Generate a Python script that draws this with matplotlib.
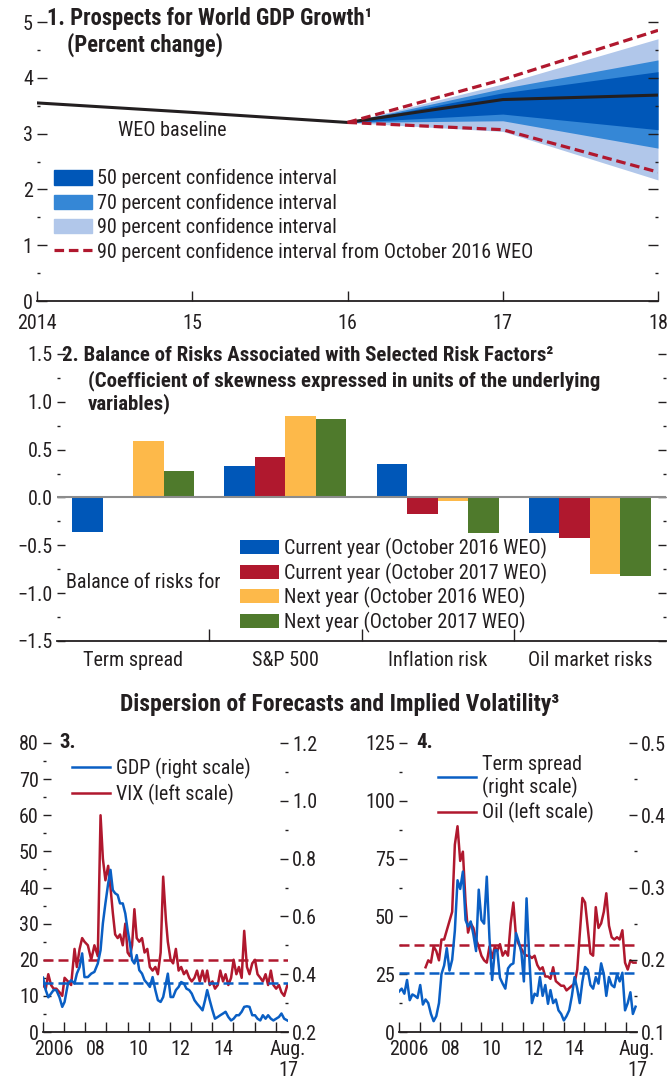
import matplotlib

matplotlib.use("Agg")
import matplotlib.pyplot as plt
from matplotlib import font_manager
from matplotlib.lines import Line2D
from matplotlib.patches import Patch
from matplotlib.ticker import FuncFormatter, MultipleLocator

# ------------------------------------------------------------------ #
# Data
# ------------------------------------------------------------------ #

# Panel 1: world GDP growth fan chart
p1_years = [2014, 2015, 2016, 2017, 2018]
p1_year_labels = ["2014", "15", "16", "17", "18"]
weo_baseline = [3.55, 3.38, 3.20, 3.61, 3.69]
fan_years = [2016, 2017, 2018]
ci50_lo = [3.20, 3.35, 3.07]
ci50_hi = [3.20, 3.73, 4.11]
ci70_lo = [3.20, 3.23, 2.74]
ci70_hi = [3.20, 3.81, 4.32]
ci90_lo = [3.20, 3.04, 2.17]
ci90_hi = [3.20, 3.89, 4.70]
oct16_ci90_lo = [3.20, 3.07, 2.31]
oct16_ci90_hi = [3.20, 3.97, 4.85]

# Panel 2: balance of risks
risk_factors = ["Term spread", "S&P 500", "Inflation risk", "Oil market risks"]
cur_2016 = [-0.36, 0.33, 0.35, -0.37]
cur_2017 = [0.01, 0.42, -0.17, -0.42]
next_2016 = [0.59, 0.85, -0.04, -0.80]
next_2017 = [0.28, 0.82, -0.37, -0.82]

# Panel 3: GDP forecast dispersion (right) and VIX (left)
p3_dates = [
    2006.00, 2006.13, 2006.25, 2006.38, 2006.50, 2006.63, 2006.78, 2006.91,
    2007.02, 2007.18, 2007.33, 2007.49, 2007.60, 2007.73, 2007.85, 2007.96,
    2008.12, 2008.28, 2008.43, 2008.59, 2008.72, 2008.83, 2008.95, 2009.08,
    2009.19, 2009.30, 2009.41, 2009.53, 2009.64, 2009.77, 2009.89, 2010.00,
    2010.11, 2010.21, 2010.32, 2010.43, 2010.55, 2010.68, 2010.80, 2010.93,
    2011.05, 2011.18, 2011.31, 2011.43, 2011.56, 2011.68, 2011.81, 2011.90,
    2012.03, 2012.15, 2012.28, 2012.41, 2012.53, 2012.66, 2012.78, 2012.91,
    2013.03, 2013.16, 2013.28, 2013.41, 2013.54, 2013.66, 2013.76, 2013.88,
    2014.01, 2014.13, 2014.26, 2014.38, 2014.51, 2014.63, 2014.76, 2014.89,
    2015.01, 2015.14, 2015.26, 2015.39, 2015.51, 2015.64, 2015.76, 2015.89,
    2016.02, 2016.14, 2016.27, 2016.39, 2016.52, 2016.64, 2016.77, 2016.89,
    2017.02, 2017.15, 2017.27, 2017.40, 2017.55,
]
p3_gdp = [
    0.388, 0.345, 0.320, 0.333, 0.345, 0.345, 0.320, 0.287,
    0.304, 0.368, 0.379, 0.368, 0.402, 0.425, 0.472, 0.390,
    0.390, 0.402, 0.408, 0.437, 0.483, 0.576, 0.645, 0.714,
    0.761, 0.691, 0.680, 0.674, 0.645, 0.645, 0.610, 0.553,
    0.506, 0.449, 0.437, 0.466, 0.414, 0.402, 0.379, 0.368,
    0.356, 0.390, 0.345, 0.310, 0.304, 0.321, 0.368, 0.402,
    0.321, 0.321, 0.345, 0.356, 0.373, 0.368, 0.350, 0.345,
    0.333, 0.310, 0.298, 0.287, 0.275, 0.310, 0.345, 0.310,
    0.275, 0.246, 0.252, 0.258, 0.264, 0.270, 0.252, 0.240,
    0.246, 0.258, 0.258, 0.270, 0.287, 0.289, 0.287, 0.258,
    0.258, 0.246, 0.240, 0.258, 0.246, 0.258, 0.246, 0.240,
    0.246, 0.252, 0.264, 0.246, 0.240,
]
p3_vix = [
    13, 12, 16, 13, 12, 12, 11, 10,
    15, 14, 13, 23, 18, 23, 26, 25,
    24, 20, 24, 21, 60, 48, 42, 46,
    40, 33, 27, 26, 27, 24, 30, 22,
    21, 24, 34, 26, 25, 26, 22, 23,
    18, 17, 18, 16, 22, 43, 31, 25,
    20, 19, 23, 17, 18, 16, 17, 15,
    14, 15, 17, 14, 17, 14, 17, 13,
    14, 12, 13, 17, 14, 16, 13, 15,
    20, 16, 18, 15, 28, 18, 16, 19,
    20, 16, 15, 14, 16, 13, 17, 13,
    12, 13, 11, 10, 13,
]
p3_vix_avg = 20.0
p3_gdp_avg = 0.371

# Panel 4: term spread forecast dispersion (right) and oil (left)
p4_dates = [
    2006.00, 2006.13, 2006.26, 2006.39, 2006.52, 2006.65, 2006.77, 2006.90,
    2007.03, 2007.16, 2007.29, 2007.42, 2007.55, 2007.68, 2007.81, 2007.94,
    2008.06, 2008.19, 2008.32, 2008.45, 2008.58, 2008.71, 2008.84, 2008.97,
    2009.10, 2009.23, 2009.35, 2009.48, 2009.61, 2009.74, 2009.87, 2010.00,
    2010.13, 2010.26, 2010.39, 2010.52, 2010.65, 2010.77, 2010.90, 2011.03,
    2011.16, 2011.29, 2011.42, 2011.55, 2011.68, 2011.81, 2011.94, 2012.06,
    2012.19, 2012.32, 2012.45, 2012.58, 2012.71, 2012.84, 2012.97, 2013.10,
    2013.23, 2013.35, 2013.48, 2013.61, 2013.74, 2013.87, 2014.00, 2014.13,
    2014.26, 2014.39, 2014.52, 2014.65, 2014.77, 2014.90, 2015.03, 2015.16,
    2015.29, 2015.42, 2015.55, 2015.68, 2015.81, 2015.94, 2016.06, 2016.19,
    2016.32, 2016.45, 2016.58, 2016.71, 2016.84, 2016.97, 2017.10, 2017.23,
    2017.35, 2017.48,
]
p4_term_spread = [
    0.156, 0.160, 0.153, 0.172, 0.144, 0.152, 0.150, 0.147, 0.165, 0.138,
    0.145, 0.140, 0.125, 0.115, 0.122, 0.140, 0.180, 0.192, 0.216, 0.185,
    0.200, 0.240, 0.310, 0.298, 0.322, 0.255, 0.246, 0.253, 0.235, 0.212,
    0.297, 0.255, 0.250, 0.315, 0.230, 0.172, 0.213, 0.213, 0.175, 0.167,
    0.160, 0.188, 0.193, 0.195, 0.237, 0.225, 0.210, 0.170, 0.285, 0.204,
    0.140, 0.153, 0.150, 0.176, 0.150, 0.165, 0.139, 0.158, 0.140, 0.145,
    0.130, 0.125, 0.116, 0.122, 0.130, 0.150, 0.176, 0.160, 0.140, 0.170,
    0.190, 0.186, 0.165, 0.160, 0.176, 0.167, 0.195, 0.180, 0.150, 0.176,
    0.165, 0.162, 0.180, 0.170, 0.182, 0.130, 0.140, 0.155, 0.125, 0.135,
]
p4_oil_start = 10  # oil series begins in spring 2007
p4_oil = [
    28, 31, 30, 37, 35, 31, 40, 40, 44, 48,
    52, 81, 89, 74, 78, 56, 43, 47, 45, 40,
    37, 33, 31, 30, 37, 32, 37, 35, 38, 33,
    35, 33, 47, 56, 41, 38, 36, 34, 33, 33,
    32, 33, 29, 27, 28, 24, 24, 23, 28, 22,
    21, 20, 20, 18, 19, 20, 21, 27, 42, 58,
    56, 45, 34, 33, 54, 45, 47, 52, 60, 46,
    41, 40, 41, 40, 44, 30, 27, 31, 30, 30,
]
p4_oil_avg = 37.5
p4_ts_avg = 0.182

bottom_label_years = [2006, 2008, 2010, 2012, 2014]
bottom_labels = ["2006", "08", "10", "12", "14", "Aug.\n17"]

# ------------------------------------------------------------------ #
# Style
# ------------------------------------------------------------------ #

W, H = 668, 1082
TXT = "#231f20"
BLUE_50 = "#0057b8"
BLUE_70 = "#3587d6"
BLUE_90 = "#b1c7ea"
RED = "#b0182e"
YELLOW = "#fdb94a"
GREEN = "#4f7a2c"
LINE_BLUE = "#0a5fc4"

# the reference is set in a condensed face; use one if the box has it
_installed = {f.name for f in font_manager.fontManager.ttflist}
if "Roboto Condensed" in _installed:
    FAMILY = ["Roboto Condensed", "DejaVu Sans"]
    FS, T1, T2, BT = 14.5, 16.3, 15, 17
else:
    FAMILY = ["Liberation Sans", "DejaVu Sans"]
    FS, T1, T2, BT = 13, 13, 12.4, 14.3

plt.rcParams["font.family"] = FAMILY
plt.rcParams["text.color"] = TXT
PT_PX = 100 / 72  # pixels per point at dpi 100


def box(l, t, r, b):
    return [l / W, 1 - b / H, (r - l) / W, (b - t) / H]


def ftext(fig, x, y, s, **kw):
    kw.setdefault("fontsize", FS)
    kw.setdefault("va", "center")
    return fig.text(x / W, 1 - y / H, s, **kw)


def handle_len(px):
    return px / PT_PX / FS


def minus(v, fmt):
    return (fmt % v).replace("-", "\u2212")


def style_axis(ax, left=True, right=False, labelleft=True, labelright=False):
    for s in ("left", "right", "top"):
        ax.spines[s].set_visible(False)
    ax.spines["bottom"].set_color(TXT)
    ax.spines["bottom"].set_linewidth(1.3)
    ax.tick_params(axis="y", which="major", direction="in", length=6, width=1,
                   colors=TXT, labelsize=FS, pad=3, left=left, right=right,
                   labelleft=labelleft, labelright=labelright)
    ax.tick_params(axis="y", which="minor", direction="in", length=2, width=1,
                   colors=TXT, left=left, right=right)
    ax.tick_params(axis="x", which="major", direction="in", length=7, width=1,
                   colors=TXT, labelsize=FS)


fig = plt.figure(figsize=(W / 100, H / 100), dpi=100)

# ------------------------------------------------------------------ #
# Panel 1
# ------------------------------------------------------------------ #
ax1 = fig.add_axes(box(37, 22, 658, 301))
ax1.fill_between(fan_years, ci90_lo, ci90_hi, color=BLUE_90, lw=0)
ax1.fill_between(fan_years, ci70_lo, ci70_hi, color=BLUE_70, lw=0)
ax1.fill_between(fan_years, ci50_lo, ci50_hi, color=BLUE_50, lw=0)
ax1.plot(p1_years, weo_baseline, color=TXT, lw=2.2, zorder=4)
ax1.plot(fan_years, oct16_ci90_hi, color=RED, lw=2.3, ls=(0, (3, 1.5)), zorder=5)
ax1.plot(fan_years, oct16_ci90_lo, color=RED, lw=2.3, ls=(0, (3, 1.5)), zorder=5)
ax1.set_xlim(p1_years[0], p1_years[-1])
ax1.set_ylim(0, 5)
ax1.set_xticks(p1_years, p1_year_labels)
ax1.yaxis.set_major_locator(MultipleLocator(1))
ax1.yaxis.set_minor_locator(MultipleLocator(0.5))
style_axis(ax1, right=True)
ax1.tick_params(axis="y", which="major", length=7)
ax1.tick_params(axis="x", pad=9)

ftext(fig, 47, 19, "1. Prospects for World GDP Growth\u00b9", fontweight="bold", fontsize=T1)
ftext(fig, 67, 45, "(Percent change)", fontweight="bold", fontsize=T1)
ftext(fig, 118, 131, "WEO baseline")

h1 = [
    Patch(color=BLUE_50, label="50 percent confidence interval"),
    Patch(color=BLUE_70, label="70 percent confidence interval"),
    Patch(color=BLUE_90, label="90 percent confidence interval"),
    Line2D([], [], color=RED, lw=2.3, ls=(0, (3, 1.5)),
           label="90 percent confidence interval from October 2016 WEO"),
]
fig.legend(handles=h1, loc="upper left", bbox_to_anchor=(54 / W, 1 - 169 / H),
           frameon=False, fontsize=FS, handlelength=handle_len(38), handleheight=0.7,
           handletextpad=0.25, labelspacing=0.24, borderpad=0, borderaxespad=0)

# ------------------------------------------------------------------ #
# Panel 2
# ------------------------------------------------------------------ #
ax2 = fig.add_axes(box(57, 354, 666, 641))
series2 = [(cur_2016, BLUE_50, "Current year (October 2016 WEO)"),
           (cur_2017, RED, "Current year (October 2017 WEO)"),
           (next_2016, YELLOW, "Next year (October 2016 WEO)"),
           (next_2017, GREEN, "Next year (October 2017 WEO)")]
xs = list(range(len(risk_factors)))
bw = 0.2
for i, (vals, col, lab) in enumerate(series2):
    off = (i - 1.5) * bw
    ax2.bar([x + off for x in xs], vals, width=bw, color=col, label=lab, zorder=2)
ax2.axhline(0, color="#8c8c8c", lw=1.5, zorder=3)
ax2.set_xlim(-0.5, len(risk_factors) - 0.5)
ax2.set_ylim(-1.5, 1.5)
ax2.set_xticks(xs, risk_factors)
ax2.set_xticks([x + 0.5 for x in xs[:-1]], minor=True)
ax2.yaxis.set_major_locator(MultipleLocator(0.5))
ax2.yaxis.set_minor_locator(MultipleLocator(0.25))
ax2.yaxis.set_major_formatter(FuncFormatter(lambda v, p: minus(v, "%.1f")))
style_axis(ax2, right=True)
ax2.tick_params(axis="x", which="major", length=0, pad=7)
ax2.tick_params(axis="x", which="minor", direction="in", length=9, width=1, colors=TXT)

ftext(fig, 62, 356, "2. Balance of Risks Associated with Selected Risk Factors\u00b2",
      fontweight="bold", fontsize=T2)
ftext(fig, 88, 381, "(Coefficient of skewness expressed in units of the underlying",
      fontweight="bold", fontsize=T2)
ftext(fig, 88, 404, "variables)", fontweight="bold", fontsize=T2)
ftext(fig, 66, 583, "Balance of risks for")
ax2.legend(loc="upper left", bbox_to_anchor=(240 / W, 1 - 538 / H),
           bbox_transform=fig.transFigure, frameon=False, fontsize=FS,
           handlelength=handle_len(39), handleheight=0.7, handletextpad=0.25,
           labelspacing=0.17, borderpad=0, borderaxespad=0)

# ------------------------------------------------------------------ #
# Panels 3 and 4
# ------------------------------------------------------------------ #
ftext(fig, 340, 705, "Dispersion of Forecasts and Implied Volatility\u00b3",
      fontweight="bold", fontsize=BT, ha="center")


def time_axes(ax, axr, x_end):
    style_axis(ax)
    style_axis(axr, left=False, right=True, labelleft=False, labelright=True)
    axr.spines["bottom"].set_visible(False)
    ax.set_xlim(2006, x_end)
    ax.set_xticks(list(range(2006, 2018)), [])
    label_pos = [y + 0.5 for y in bottom_label_years] + [x_end]
    ax.set_xticks(label_pos, bottom_labels, minor=True)
    ax.tick_params(axis="x", which="minor", length=0, labelsize=FS, pad=6,
                   colors=TXT)
    for t in ax.get_xticklabels(minor=True):
        t.set_linespacing(1.1)


# Panel 3
ax3 = fig.add_axes(box(43, 743, 288, 1032))
ax3r = ax3.twinx()
ax3.plot(p3_dates, p3_vix, color=RED, lw=1.8)
ax3.axhline(p3_vix_avg, color=RED, lw=1.8, ls=(0, (4, 2)))
ax3r.plot(p3_dates, p3_gdp, color=LINE_BLUE, lw=1.8)
ax3r.axhline(p3_gdp_avg, color=LINE_BLUE, lw=1.8, ls=(0, (4, 2)))
ax3.set_ylim(0, 80)
ax3r.set_ylim(0.2, 1.2)
ax3.yaxis.set_major_locator(MultipleLocator(10))
ax3.yaxis.set_minor_locator(MultipleLocator(5))
ax3r.yaxis.set_major_locator(MultipleLocator(0.2))
ax3r.yaxis.set_minor_locator(MultipleLocator(0.1))
ax3r.yaxis.set_major_formatter(FuncFormatter(lambda v, p: "%.1f" % v))
time_axes(ax3, ax3r, 2017.58)
ftext(fig, 59, 743, "3.", fontweight="bold", fontsize=T2)
h3 = [Line2D([], [], color=LINE_BLUE, lw=1.8, label="GDP (right scale)"),
      Line2D([], [], color=RED, lw=1.8, label="VIX (left scale)")]
fig.legend(handles=h3, loc="upper left", bbox_to_anchor=(72 / W, 1 - 758 / H),
           frameon=False, fontsize=FS, handlelength=handle_len(38), handletextpad=0.3,
           labelspacing=0.25, borderpad=0, borderaxespad=0)

# Panel 4
ax4 = fig.add_axes(box(399, 743, 637, 1032))
ax4r = ax4.twinx()
ax4.plot(p4_dates[p4_oil_start:], p4_oil, color=RED, lw=1.8)
ax4.axhline(p4_oil_avg, color=RED, lw=1.8, ls=(0, (4, 2)))
ax4r.plot(p4_dates, p4_term_spread, color=LINE_BLUE, lw=1.8)
ax4r.axhline(p4_ts_avg, color=LINE_BLUE, lw=1.8, ls=(0, (4, 2)))
ax4.set_ylim(0, 125)
ax4r.set_ylim(0.1, 0.5)
ax4.yaxis.set_major_locator(MultipleLocator(25))
ax4.yaxis.set_minor_locator(MultipleLocator(12.5))
ax4r.yaxis.set_major_locator(MultipleLocator(0.1))
ax4r.yaxis.set_minor_locator(MultipleLocator(0.05))
ax4r.yaxis.set_major_formatter(FuncFormatter(lambda v, p: "%.1f" % v))
time_axes(ax4, ax4r, 2017.55)
ftext(fig, 416, 743, "4.", fontweight="bold", fontsize=T2)
h4 = [Line2D([], [], color=LINE_BLUE, lw=1.8, label="Term spread\n(right scale)"),
      Line2D([], [], color=RED, lw=1.8, label="Oil (left scale)")]
leg4 = fig.legend(handles=h4, loc="upper left", bbox_to_anchor=(438 / W, 1 - 755 / H),
                  frameon=False, fontsize=FS, handlelength=handle_len(38),
                  handletextpad=0.3, labelspacing=0.2, borderpad=0,
                  borderaxespad=0)
leg4.get_texts()[0].set_linespacing(1.2)

fig.savefig("out.png", dpi=100, facecolor="white")
